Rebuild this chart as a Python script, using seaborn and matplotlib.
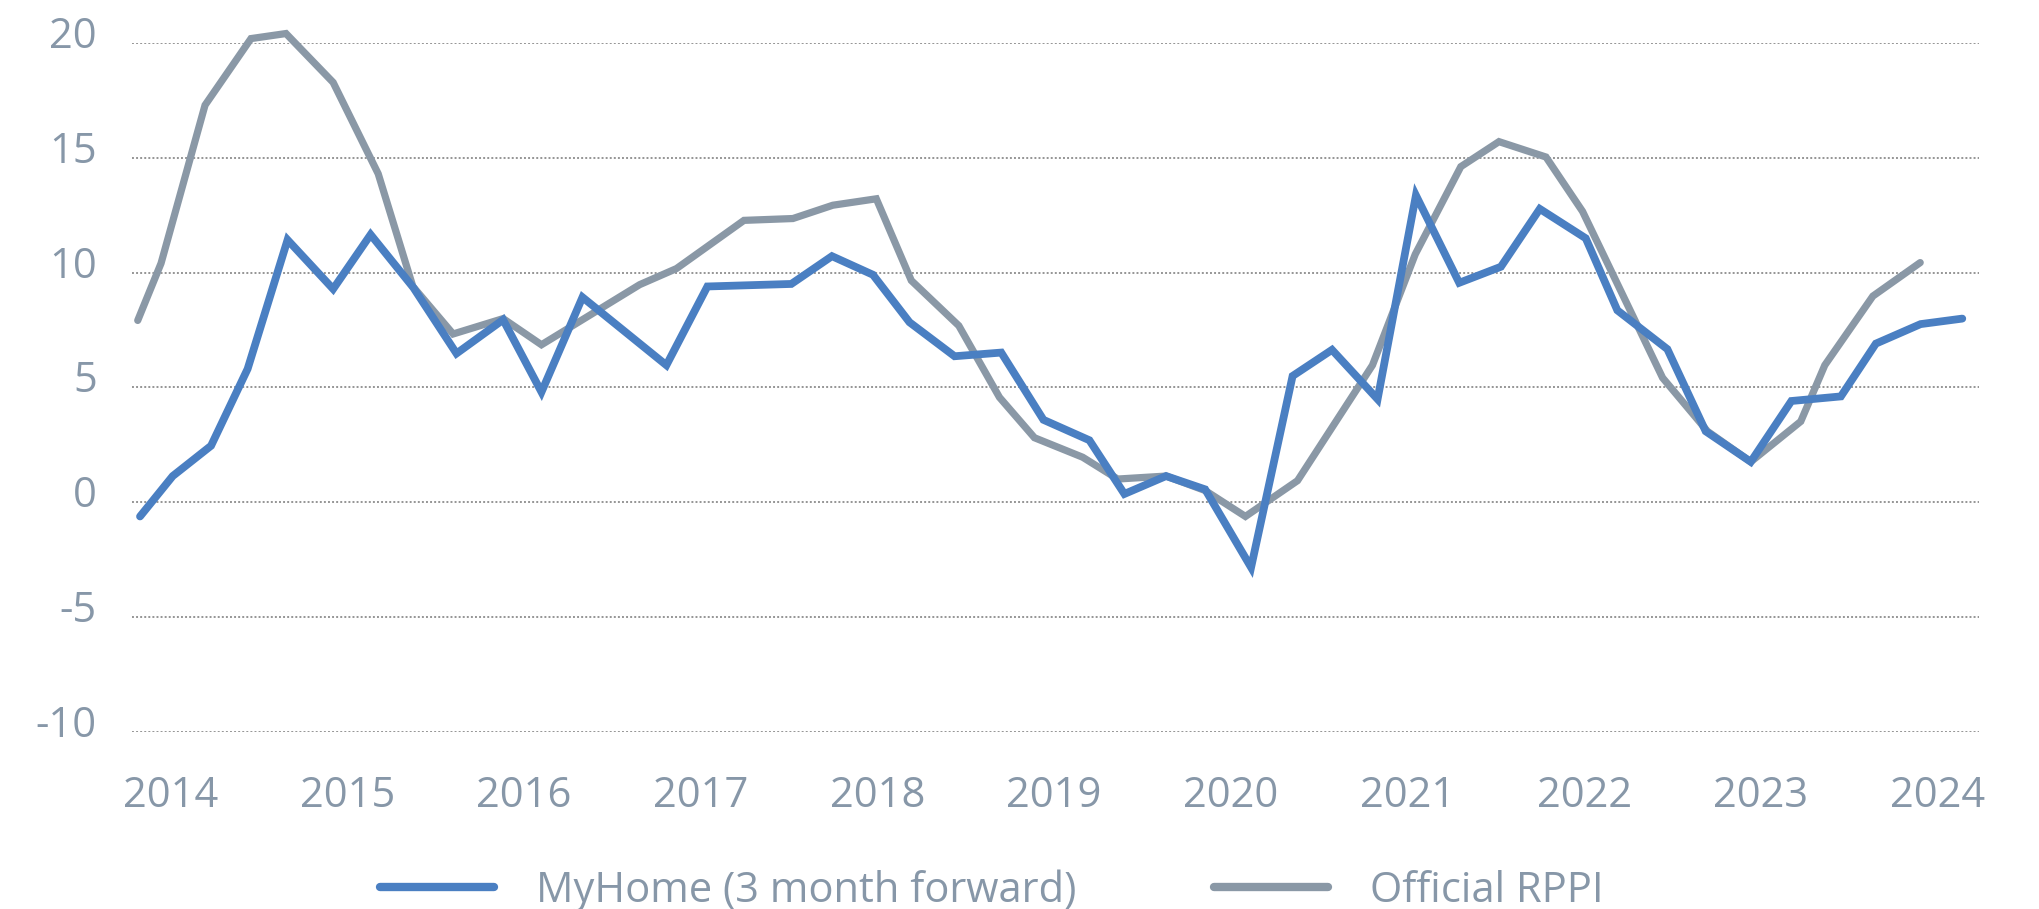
import matplotlib
matplotlib.use("Agg")
import matplotlib.pyplot as plt
import matplotlib.transforms as mtransforms
from matplotlib.lines import Line2D
import seaborn as sns
import pandas as pd

# ---- data (fractional years, % change) ----
myhome_dates = [2013.827, 2014.012, 2014.229, 2014.436, 2014.662, 2014.920, 2015.132, 2015.374,
                2015.618, 2015.882, 2016.099, 2016.331, 2016.806, 2017.038, 2017.513, 2017.743,
                2017.975, 2018.182, 2018.437, 2018.701, 2018.940, 2019.200, 2019.398, 2019.634,
                2019.855, 2020.115, 2020.350, 2020.573, 2020.831, 2021.048, 2021.293, 2021.529,
                2021.749, 2022.009, 2022.188, 2022.471, 2022.688, 2022.943, 2023.173, 2023.453,
                2023.651, 2023.904, 2024.140]
myhome_values = [-0.62, 1.14, 2.46, 5.81, 11.43, 9.29, 11.66, 9.35,
                 6.48, 7.95, 4.80, 8.93, 5.97, 9.40, 9.51, 10.72,
                 9.91, 7.84, 6.36, 6.52, 3.59, 2.70, 0.36, 1.14,
                 0.56, -2.84, 5.50, 6.64, 4.49, 13.37, 9.56, 10.26,
                 12.78, 11.50, 8.36, 6.67, 3.09, 1.76, 4.41, 4.61,
                 6.91, 7.76, 8.00]

rppi_dates = [2013.814, 2013.946, 2014.195, 2014.455, 2014.653, 2014.920, 2015.175, 2015.371,
              2015.599, 2015.882, 2016.099, 2016.655, 2016.863, 2017.245, 2017.522, 2017.748,
              2017.994, 2018.192, 2018.461, 2018.691, 2018.889, 2019.162, 2019.360, 2019.634,
              2019.855, 2020.083, 2020.378, 2020.802, 2021.044, 2021.302, 2021.518, 2021.784,
              2021.991, 2022.444, 2022.698, 2022.943, 2023.226, 2023.362, 2023.634, 2023.902]
rppi_values = [7.92, 10.41, 17.30, 20.20, 20.42, 18.29, 14.31, 9.40,
               7.33, 8.00, 6.86, 9.48, 10.18, 12.28, 12.36, 12.94,
               13.22, 9.66, 7.69, 4.57, 2.81, 1.96, 1.01, 1.14,
               0.51, -0.62, 0.94, 5.97, 10.80, 14.62, 15.71, 15.04,
               12.67, 5.42, 3.09, 1.76, 3.52, 5.97, 8.98, 10.44]

year_ticks = [2014, 2015, 2016, 2017, 2018, 2019, 2020, 2021, 2022, 2023, 2024]
year_labels = [str(y) for y in year_ticks]
y_ticks = [-10, -5, 0, 5, 10, 15, 20]
y_labels = [str(v) for v in y_ticks]

series_names = ["MyHome (3 month forward)", "Official RPPI"]

# ---- style ----
sns.set_theme(style="white")
plt.rcParams['font.family'] = ['Open Sans', 'DejaVu Sans']

BLUE = "#4A7FC2"
GREY = "#8A98A6"
TXT = "#8797A8"
GRID = "#959595"

fig = plt.figure(figsize=(20.39, 9.09), dpi=100)
ax = fig.add_axes([0.0646, 0.195, 0.906, 0.7575])

df_m = pd.DataFrame({"date": myhome_dates, "value": myhome_values})
df_r = pd.DataFrame({"date": rppi_dates, "value": rppi_values})

sns.lineplot(data=df_m, x="date", y="value", ax=ax, color=BLUE, linewidth=5.6,
             sort=False, clip_on=False, solid_capstyle="round",
             solid_joinstyle="miter", zorder=4)
sns.lineplot(data=df_r, x="date", y="value", ax=ax, color=GREY, linewidth=5.2,
             sort=False, clip_on=False, solid_capstyle="round",
             solid_joinstyle="miter", zorder=3)

ax.set_xlim(2013.780, 2024.235)
ax.set_ylim(-10, 20)
ax.set_xlabel("")
ax.set_ylabel("")

for s in ax.spines.values():
    s.set_visible(False)

ax.set_yticks(y_ticks)
ax.set_yticklabels(y_labels)
ax.set_xticks(year_ticks)
ax.set_xticklabels(year_labels)

ax.tick_params(axis="y", length=0, pad=25, labelsize=30, labelcolor=TXT)
ax.tick_params(axis="x", length=0, pad=31, labelsize=30, labelcolor=TXT)

ax.grid(False)
ax.yaxis.grid(True, color=GRID, linewidth=1.4, linestyle=(0, (1, 1.1)))
ax.set_axisbelow(True)

# y tick labels sit slightly above their gridlines
offset = mtransforms.ScaledTranslation(0, 11 / 100, fig.dpi_scale_trans)
for lab in ax.get_yticklabels():
    lab.set_transform(lab.get_transform() + offset)

handles = [Line2D([0], [0], color=BLUE, linewidth=6.0, solid_capstyle="round"),
           Line2D([0], [0], color=GREY, linewidth=6.0, solid_capstyle="round")]
leg = fig.legend(handles, series_names, loc="center", bbox_to_anchor=(0.4863, 0.02),
                 ncol=2, frameon=False, fontsize=30, handlelength=2.75,
                 handletextpad=1.0, columnspacing=3.3, labelcolor=TXT)

fig.savefig("out.png", dpi=100, facecolor="white")
